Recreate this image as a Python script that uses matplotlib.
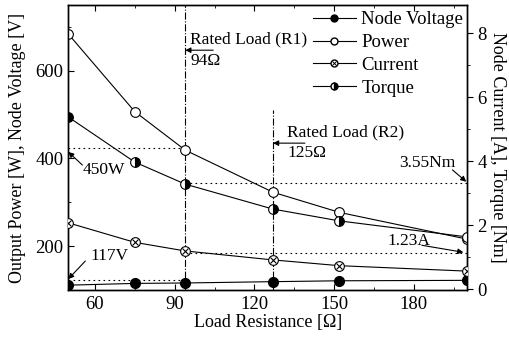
import matplotlib
matplotlib.use("Agg")
import matplotlib.pyplot as plt
from matplotlib.ticker import MultipleLocator
from matplotlib.lines import Line2D

plt.rcParams['font.family'] = ['Liberation Serif', 'DejaVu Serif']
plt.rcParams['font.size'] = 13

# Data
resistance = [50, 75, 94, 127, 152, 200]
power = [684, 507, 419, 323, 277, 216]
voltage = [111, 115, 116, 119, 121, 122]
current = [2.07, 1.46, 1.19, 0.91, 0.73, 0.56]
torque = [5.38, 3.97, 3.28, 2.50, 2.13, 1.63]

x_ticks = [60, 90, 120, 150, 180]
left_ticks = [200, 400, 600]
right_ticks = [0, 2, 4, 6, 8]

fig = plt.figure(figsize=(5.10, 3.37), dpi=100)
ax = fig.add_axes([0.1339, 0.1395, 0.7819, 0.8455])
ax2 = ax.twinx()

lw = 0.8
ms = 7
# left axis: power & voltage
ax.plot(resistance, voltage, '-', color='k', lw=lw, marker='o', ms=ms,
        mfc='k', mec='k', zorder=3)
ax.plot(resistance, power, '-', color='k', lw=lw, marker='o', ms=ms,
        mfc='white', mec='k', mew=0.8, zorder=3)
# right axis: current & torque
ax2.plot(resistance, current, '-', color='k', lw=lw, marker='o', ms=ms,
         mfc='white', mec='k', mew=0.8, zorder=3)
ax2.plot(resistance, current, ls='none', marker='x', ms=ms*0.65, mec='k', mew=0.8, zorder=4)
ax2.plot(resistance, torque, '-', color='k', lw=lw, marker='o', ms=ms,
         fillstyle='right', mfc='k', mfcalt='white', mec='k', mew=0.8, zorder=3)

ax.set_xlim(50, 200)
ax.set_ylim(100, 750)
ax2.set_ylim(-0.03, 8.88)

# reference lines
dot = (0, (1.5, 3))
ax.axvline(94, color='k', lw=0.8, ls='-.', zorder=2)
ax.plot([127, 127], [100, 510], color='k', lw=0.8, ls='-.', zorder=2)
ax.plot([50, 94], [424, 424], color='k', lw=0.8, ls=dot, zorder=2)
ax.plot([50, 94], [122, 122], color='k', lw=0.8, ls=dot, zorder=2)
ax2.plot([94, 200], [3.30, 3.30], color='k', lw=0.8, ls=dot, zorder=2)
ax2.plot([94, 200], [1.13, 1.13], color='k', lw=0.8, ls=dot, zorder=2)

ap = dict(arrowstyle='-|>', lw=0.8, color='k', mutation_scale=8, shrinkA=0, shrinkB=0)
fs = 12.5
ax.annotate('', xy=(94, 647), xytext=(104.5, 647), arrowprops=ap)
ax.text(95.8, 672, 'Rated Load (R1)', fontsize=fs, va='center', ha='left')
ax.text(95.8, 622, '94Ω', fontsize=fs, va='center', ha='left')
ax.annotate('', xy=(127, 435), xytext=(139, 435), arrowprops=ap)
ax.text(132.4, 459, 'Rated Load (R2)', fontsize=fs, va='center', ha='left')
ax.text(132.4, 412, '125Ω', fontsize=fs, va='center', ha='left')
ax.annotate('', xy=(50, 415), xytext=(55.3, 385), arrowprops=ap)
ax.text(55.3, 374, '450W', fontsize=fs, va='center', ha='left')
ax.annotate('', xy=(50, 125), xytext=(56.4, 166), arrowprops=ap)
ax.text(58.2, 177, '117V', fontsize=fs, va='center', ha='left')
ax.annotate('', xy=(199.7, 347), xytext=(194.5, 374), arrowprops=ap)
ax.text(195.6, 390, '3.55Nm', fontsize=fs, va='center', ha='right')
ax.annotate('', xy=(198.6, 186), xytext=(183, 202), arrowprops=ap)
ax.text(170, 211, '1.23A', fontsize=fs, va='center', ha='left')

# ticks
ax.set_xticks(x_ticks)
ax.xaxis.set_minor_locator(MultipleLocator(15))
ax.set_yticks(left_ticks)
ax.yaxis.set_minor_locator(MultipleLocator(100))
ax2.set_yticks(right_ticks)
ax2.yaxis.set_minor_locator(MultipleLocator(1))
ax.tick_params(axis='x', which='both', direction='in', top=True, labelsize=13.5, pad=4)
ax.tick_params(axis='x', which='major', length=4)
ax.tick_params(axis='x', which='minor', length=2.5)
ax.tick_params(axis='y', which='both', direction='in', labelsize=13.5)
ax.tick_params(axis='y', which='major', length=4)
ax.tick_params(axis='y', which='minor', length=2.5)
ax2.tick_params(axis='y', which='both', direction='out', labelsize=13.5)
ax2.tick_params(axis='y', which='major', length=4)
ax2.tick_params(axis='y', which='minor', length=2.5)

ax.set_xlabel('Load Resistance [Ω]', fontsize=13, labelpad=1)
ax.set_ylabel('Output Power [W], Node Voltage [V]', fontsize=13, labelpad=7)
ax2.set_ylabel('Node Current [A], Torque [Nm]', fontsize=13, rotation=-90, labelpad=14)

for sp in list(ax.spines.values()) + list(ax2.spines.values()):
    sp.set_linewidth(1.0)

# legend
lms = 5
handles = [
    Line2D([], [], color='k', lw=lw, marker='o', ms=lms, mfc='k', mec='k'),
    Line2D([], [], color='k', lw=lw, marker='o', ms=lms, mfc='white', mec='k'),
    (Line2D([], [], color='k', lw=lw, marker='o', ms=lms, mfc='white', mec='k'),
     Line2D([], [], ls='none', marker='x', ms=lms*0.7, mec='k', mew=0.7)),
    Line2D([], [], color='k', lw=lw, marker='o', ms=lms, fillstyle='right',
           mfc='k', mfcalt='white', mec='k'),
]
labels = ['Node Voltage', 'Power', 'Current', 'Torque']
ax2.legend(handles, labels, loc='upper right', bbox_to_anchor=(0.995, 0.985),
           frameon=False, fontsize=13.5, handlelength=2.3, handletextpad=0.3,
           labelspacing=0.3, borderaxespad=0.0, borderpad=0.1)

fig.savefig('out.png', dpi=100)
